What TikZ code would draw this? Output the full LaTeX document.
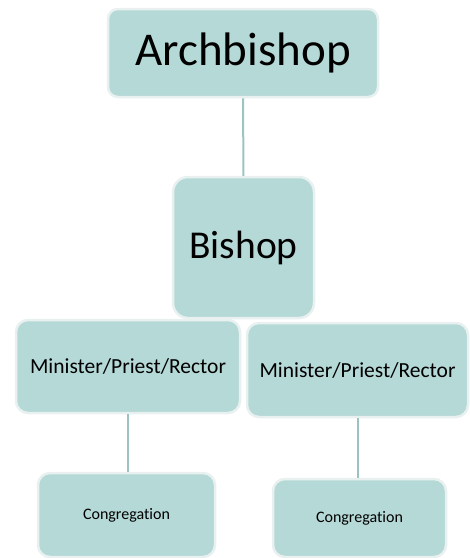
\documentclass[tikz,border=0pt]{standalone}
\usepackage{fontspec}
\setmainfont{Carlito}[Ligatures=NoCommon]
\definecolor{boxfill}{HTML}{B5D9D7}
\definecolor{boxedge}{HTML}{E8F0F0}
\definecolor{linkcol}{HTML}{9CC3C3}
\tikzset{
  rolebox/.style={draw=boxedge, line width=2.5pt, fill=boxfill, inner sep=0pt, align=center},
  link/.style={draw=linkcol, line width=2pt}
}
\begin{document}
\begin{tikzpicture}[x=1pt, y=-1pt]
  \useasboundingbox (0,0) rectangle (470,558);
  % top of the hierarchy
  \node[rolebox, rounded corners=10pt, minimum width=270pt, minimum height=88pt, font=\fontsize{47}{50}\selectfont] (arch) at (243,53) {Archbishop};
  \node[rolebox, rounded corners=15pt, minimum width=141pt, minimum height=141pt, font=\fontsize{39.5}{42}\selectfont] (bishop) at (243.5,247.5) {Bishop};
  % parish level
  \node[rolebox, rounded corners=12pt, minimum width=224pt, minimum height=93pt, font=\fontsize{21.5}{24}\selectfont] (minL) at (128,366.5) {Minister/Priest/Rector};
  \node[rolebox, rounded corners=12pt, minimum width=221pt, minimum height=94pt, font=\fontsize{21.5}{24}\selectfont] (minR) at (357.5,370) {Minister/Priest/Rector};
  \node[rolebox, rounded corners=12pt, minimum width=177pt, minimum height=84pt, font=\fontsize{16}{18}\selectfont] (congL) at (126.5,515) {Congregation};
  \node[rolebox, rounded corners=12pt, minimum width=173pt, minimum height=78pt, font=\fontsize{16}{18}\selectfont] (congR) at (359.5,518) {Congregation};
  % connectors
  \draw[link] (arch.south) -- (bishop.north);
  \draw[link] (minL.south) -- (minL.south |- congL.north);
  \draw[link] (minR.south) -- (minR.south |- congR.north);
\end{tikzpicture}
\end{document}
